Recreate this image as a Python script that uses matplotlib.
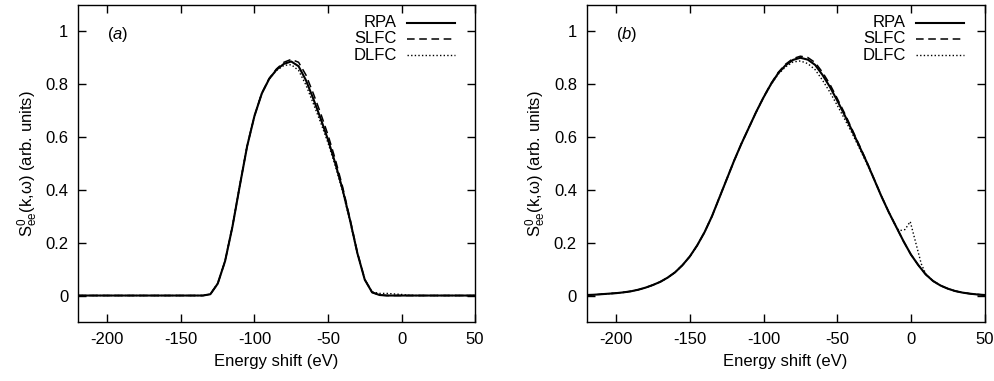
import numpy as np
import matplotlib
matplotlib.use("Agg")
import matplotlib.pyplot as plt

plt.rcParams["font.family"] = ["Liberation Sans", "DejaVu Sans"]
plt.rcParams["mathtext.fontset"] = "custom"
plt.rcParams["mathtext.rm"] = "Liberation Sans"
plt.rcParams["mathtext.it"] = "Liberation Sans:italic"
plt.rcParams["axes.unicode_minus"] = False

# energy grid (eV), 5 eV steps
energy = [-220, -215, -210, -205, -200, -195, -190, -185, -180, -175,
          -170, -165, -160, -155, -150, -145, -140, -135, -130, -125,
          -120, -115, -110, -105, -100, -95, -90, -85, -80, -75,
          -70, -65, -60, -55, -50, -45, -40, -35, -30, -25,
          -20, -15, -10, -5, 0, 5, 10, 15, 20, 25,
          30, 35, 40, 45, 50]

# panel (a)
a_rpa = [0, 0, 0, 0, 0, 0, 0, 0, 0, 0,
         0, 0, 0, 0, 0, 0, 0, 0, 0.005, 0.045,
         0.13, 0.26, 0.415, 0.565, 0.68, 0.765, 0.82, 0.855, 0.877, 0.886,
         0.868, 0.815, 0.745, 0.67, 0.59, 0.50, 0.40, 0.285, 0.16, 0.06,
         0.012, 0.002, 0, 0, 0, 0, 0, 0, 0, 0,
         0, 0, 0, 0, 0]
a_slfc = [0, 0, 0, 0, 0, 0, 0, 0, 0, 0,
          0, 0, 0, 0, 0, 0, 0, 0, 0.005, 0.045,
          0.13, 0.26, 0.415, 0.565, 0.68, 0.766, 0.822, 0.858, 0.883, 0.894,
          0.883, 0.835, 0.765, 0.69, 0.608, 0.515, 0.41, 0.29, 0.163, 0.061,
          0.012, 0.002, 0, 0, 0, 0, 0, 0, 0, 0,
          0, 0, 0, 0, 0]
a_dlfc = [0, 0, 0, 0, 0, 0, 0, 0, 0, 0,
          0, 0, 0, 0, 0, 0, 0, 0, 0.005, 0.046,
          0.132, 0.263, 0.419, 0.568, 0.682, 0.766, 0.82, 0.852, 0.871, 0.874,
          0.852, 0.797, 0.727, 0.655, 0.578, 0.49, 0.393, 0.28, 0.157, 0.06,
          0.014, 0.008, 0.008, 0.006, 0.004, 0.001, 0, 0, 0, 0,
          0, 0, 0, 0, 0]

# panel (b)
b_rpa = [0.002, 0.003, 0.005, 0.007, 0.009, 0.012, 0.016, 0.022, 0.030, 0.040,
         0.052, 0.068, 0.088, 0.115, 0.148, 0.19, 0.24, 0.30, 0.37, 0.44,
         0.51, 0.575, 0.635, 0.695, 0.75, 0.80, 0.842, 0.872, 0.892, 0.90,
         0.893, 0.873, 0.835, 0.79, 0.738, 0.683, 0.625, 0.565, 0.505, 0.44,
         0.375, 0.315, 0.26, 0.205, 0.155, 0.115, 0.08, 0.055, 0.038, 0.026,
         0.017, 0.011, 0.007, 0.004, 0.002]
b_slfc = [0.002, 0.003, 0.005, 0.007, 0.009, 0.012, 0.016, 0.022, 0.030, 0.040,
          0.052, 0.068, 0.088, 0.115, 0.148, 0.19, 0.24, 0.30, 0.37, 0.44,
          0.51, 0.575, 0.635, 0.695, 0.751, 0.802, 0.845, 0.876, 0.897, 0.906,
          0.901, 0.882, 0.845, 0.80, 0.746, 0.69, 0.63, 0.569, 0.507, 0.441,
          0.376, 0.315, 0.26, 0.205, 0.155, 0.115, 0.08, 0.055, 0.038, 0.026,
          0.017, 0.011, 0.007, 0.004, 0.002]

# DLFC in (b) has a small bump near 0 eV, so it has its own grid
b_dlfc_e = [-220, -215, -210, -205, -200, -195, -190, -185, -180, -175,
            -170, -165, -160, -155, -150, -145, -140, -135, -130, -125,
            -120, -115, -110, -105, -100, -95, -90, -85, -80, -75,
            -70, -65, -60, -55, -50, -45, -40, -35, -30, -25,
            -20, -15, -10, -8, -4, -0.5, 7, 10, 15, 20, 25,
            30, 35, 40, 45, 50]
b_dlfc = [0.002, 0.003, 0.005, 0.007, 0.009, 0.012, 0.016, 0.022, 0.030, 0.040,
          0.052, 0.068, 0.088, 0.115, 0.148, 0.19, 0.24, 0.30, 0.37, 0.44,
          0.51, 0.575, 0.635, 0.695, 0.75, 0.798, 0.838, 0.866, 0.884, 0.888,
          0.878, 0.855, 0.815, 0.77, 0.72, 0.668, 0.615, 0.558, 0.50, 0.44,
          0.375, 0.315, 0.26, 0.245, 0.25, 0.28, 0.12, 0.082, 0.055, 0.038, 0.026,
          0.017, 0.011, 0.007, 0.004, 0.002]

labels = ["RPA", "SLFC", "DLFC"]
styles = [dict(ls="-", lw=1.5), dict(ls=(0, (5, 3)), lw=1.1), dict(ls=(0, (1, 1.6)), lw=1.0)]
xticks = [-200, -150, -100, -50, 0, 50]
yticks = [0, 0.2, 0.4, 0.6, 0.8, 1]
ytick_labels = ["0", "0.2", "0.4", "0.6", "0.8", "1"]
FS = 12

fig = plt.figure(figsize=(9.94, 3.81), dpi=100)
ax_a = fig.add_axes([0.0785, 0.155, 0.3994, 0.832])
ax_b = fig.add_axes([0.5902, 0.155, 0.4004, 0.832])

panels = [
    (ax_a, "a", [(energy, a_rpa), (energy, a_slfc), (energy, a_dlfc)], 0.8035, 0.829, 0.950),
    (ax_b, "b", [(energy, b_rpa), (energy, b_slfc), (b_dlfc_e, b_dlfc)], 0.8015, 0.827, 0.948),
]

for ax, tag, series, txt_x, l0, l1 in panels:
    for (xs, ys), st in zip(series, styles):
        ax.plot(xs, ys, color="black", **st)
    ax.set_xlim(-220, 50)
    ax.set_ylim(-0.1, 1.1)
    ax.set_xticks(xticks)
    ax.set_yticks(yticks)
    ax.set_yticklabels(ytick_labels)
    ax.tick_params(direction="in", length=6, width=1.0, top=True, right=True,
                   labelsize=FS, pad=7)
    for sp in ax.spines.values():
        sp.set_linewidth(1.0)
    ax.set_xlabel("Energy shift (eV)", fontsize=FS, labelpad=5)
    ax.set_ylabel(r"S$^{0}_{\mathregular{ee}}$(k,ω) (arb. units)", fontsize=FS, labelpad=4)
    ax.text(-200, 0.99, r"($\mathit{" + tag + r"}$)", fontsize=FS, ha="left", va="center")

    # gnuplot-style key: label right-aligned, sample to the right
    for i, (lab, st) in enumerate(zip(labels, styles)):
        yk = 0.944 - i * 0.051
        ax.text(txt_x, yk, lab, transform=ax.transAxes, fontsize=FS, ha="right", va="center")
        ax.plot([l0, l1], [yk, yk], transform=ax.transAxes, color="black", **st)

fig.savefig("out.png", dpi=100)
